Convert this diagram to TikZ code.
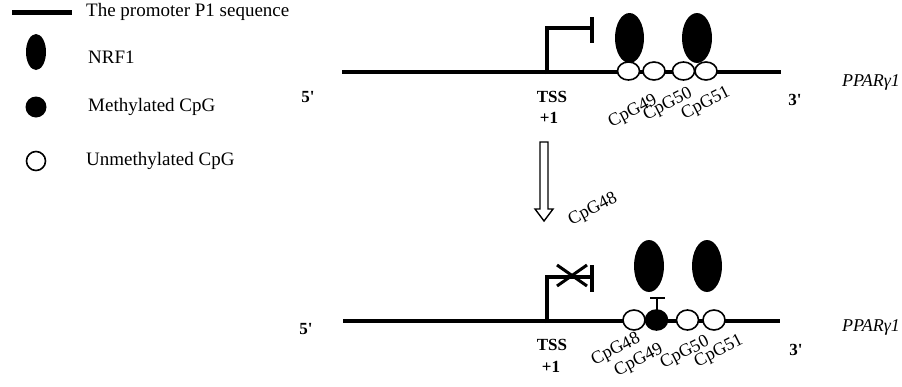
\documentclass[tikz,border=0pt]{standalone}
\usepackage{fontspec}
\setmainfont{Liberation Serif}
\begin{document}
\begin{tikzpicture}[x=1pt,y=-1pt,
  dna/.style={line width=4.5pt},
  prom/.style={line width=3.5pt},
  nrf/.style={fill=black},
  cpg/.style={draw=black,fill=white,line width=1.6pt},
  mcpg/.style={draw=black,fill=black,line width=1.6pt},
  lbl/.style={inner sep=0pt,font=\fontsize{19}{22}\selectfont},
  cpglbl/.style={inner sep=0pt,rotate=27,font=\fontsize{18}{20}\selectfont},
  boldlbl/.style={inner sep=0pt,font=\bfseries\fontsize{17}{20}\selectfont},
  gene/.style={inner sep=0pt,anchor=west,font=\itshape\fontsize{18}{20}\selectfont},
  hollow/.style={draw=black,fill=white,line width=1.4pt,line join=miter}
]
\path[use as bounding box] (0,0) rectangle (902,386);

% ---------- legend ----------
\draw[line width=5pt] (12,12) -- (72,12);
\node[lbl,anchor=west] (l1) at (86,12) {The promoter P1 sequence};
\fill (36,52) ellipse [x radius=10pt, y radius=18pt];
\node[lbl,anchor=west] (l2) at (88,57) {NRF1};
\fill (36,107) circle [radius=10.5pt];
\node[lbl,anchor=west] (l3) at (88,107) {Methylated CpG};
\draw[line width=1.6pt] (36,161) circle [radius=9.5pt];
\node[lbl,anchor=west] (l4) at (86,161) {Unmethylated CpG};

% ---------- top strand ----------
\fill[nrf] (629.5,38) ellipse [x radius=14.5pt, y radius=25pt];
\fill[nrf] (697,38) ellipse [x radius=15pt, y radius=25pt];
\coordinate (t5) at (342,72);
\coordinate (t3) at (781,72);
\draw[dna] (t5) -- (t3);
\draw[prom,line cap=butt] (547,74) -- (547,28) -- (592,28);
\draw[prom] (592,17) -- (592,43);
\draw[cpg] (628.5,71) ellipse [x radius=11pt, y radius=9pt];
\draw[cpg] (654,71) ellipse [x radius=11pt, y radius=9pt];
\draw[cpg] (683.5,71) ellipse [x radius=11pt, y radius=9pt];
\draw[cpg] (706,71) ellipse [x radius=11pt, y radius=9pt];

\node[boldlbl] (five1) at (308,97) {5\textquotesingle};
\node[boldlbl] (tssA) at (552,97) {TSS};
\node[boldlbl] (plusA) at (549,118) {+1};
\node[cpglbl] (c49a) at (633,112) {CpG49};
\node[cpglbl] (c50a) at (668,105) {CpG50};
\node[cpglbl] (c51a) at (706,104) {CpG51};
\node[boldlbl] (three1) at (795,100) {3\textquotesingle};
\node[gene] (g1) at (842,82) {PPARγ1};

% ---------- arrow ----------
\draw[hollow] (540,142) -- (548,142) -- (548,209) -- (553,209) -- (544,221) -- (535,209) -- (540,209) -- cycle;
\node[cpglbl] (c48m) at (593,210) {CpG48};

% ---------- bottom strand ----------
\fill[nrf] (649,266) ellipse [x radius=15pt, y radius=26pt];
\fill[nrf] (707,266) ellipse [x radius=15pt, y radius=26pt];
\draw[dna] (343,321) -- (780,321);
\draw[prom,line cap=butt] (547,323) -- (547,277) -- (592,277);
\draw[prom] (592,265) -- (592,292);
\draw[line width=3pt] (557,265) -- (587,286);
\draw[line width=3pt] (557,286) -- (587,265);
\draw[line width=2.5pt] (657,312) -- (657,298);
\draw[line width=2.5pt] (650,298) -- (665,298);
\draw[cpg] (634,320) ellipse [x radius=11pt, y radius=10pt];
\draw[mcpg] (656.5,320) ellipse [x radius=11pt, y radius=10pt];
\draw[cpg] (687.5,320) ellipse [x radius=11pt, y radius=10pt];
\draw[cpg] (714,320) ellipse [x radius=11pt, y radius=10pt];

\node[boldlbl] (five2) at (306,329) {5\textquotesingle};
\node[boldlbl] (tssB) at (552,345) {TSS};
\node[boldlbl] (plusB) at (551,367) {+1};
\node[cpglbl] (c48b) at (616,350) {CpG48};
\node[cpglbl] (c49b) at (639,361) {CpG49};
\node[cpglbl] (c50b) at (685,353) {CpG50};
\node[cpglbl] (c51b) at (719,352) {CpG51};
\node[boldlbl] (three2) at (796,350) {3\textquotesingle};
\node[gene] (g2) at (842,327) {PPARγ1};
\end{tikzpicture}
\end{document}
